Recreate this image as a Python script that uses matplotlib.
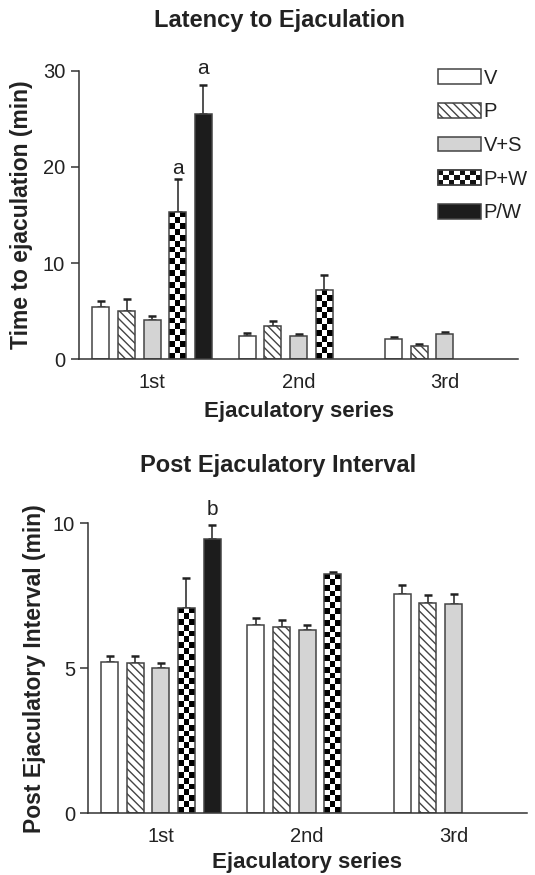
import numpy as np
import matplotlib
matplotlib.use('Agg')
import matplotlib.pyplot as plt
from matplotlib.patches import Patch, Rectangle
from matplotlib.legend_handler import HandlerBase

plt.rcParams['font.family'] = ['Liberation Sans', 'DejaVu Sans']
plt.rcParams['hatch.linewidth'] = 1.0

series = ['1st', '2nd', '3rd']
groups = ['V', 'P', 'V+S', 'P+W', 'P/W']

# Latency to ejaculation (min), mean and SEM
lat_V = [5.39, 2.43, 2.09]
lat_P = [5.05, 3.43, 1.41]
lat_VS = [4.09, 2.43, 2.60]
lat_PW = [15.36, 7.20, np.nan]
lat_PslW = [25.47, np.nan, np.nan]
lat_V_err = [0.62, 0.31, 0.21]
lat_P_err = [1.20, 0.58, 0.20]
lat_VS_err = [0.41, 0.24, 0.21]
lat_PW_err = [3.43, 1.51, np.nan]
lat_PslW_err = [3.02, np.nan, np.nan]

# Post ejaculatory interval (min)
pei_V = [5.23, 6.48, 7.56]
pei_P = [5.20, 6.43, 7.25]
pei_VS = [5.02, 6.31, 7.22]
pei_PW = [7.08, 8.27, np.nan]
pei_PslW = [9.46, np.nan, np.nan]
pei_V_err = [0.21, 0.26, 0.31]
pei_P_err = [0.24, 0.24, 0.28]
pei_VS_err = [0.18, 0.18, 0.34]
pei_PW_err = [1.04, 0.05, np.nan]
pei_PslW_err = [0.47, np.nan, np.nan]

# significance letters: (group index, series index, letter, y)
sig_lat = [(3, 0, 'a', 19.3), (4, 0, 'a', 29.7)]
sig_pei = [(4, 0, 'b', 10.3)]

edge = '#444444'
styles = [
    dict(facecolor='white', hatch=None),
    dict(facecolor='white', hatch='\\\\\\\\'),
    dict(facecolor='#d4d4d4', hatch=None),
    dict(facecolor='white', hatch=None),   # checkerboard drawn on top
    dict(facecolor='#1c1c1c', hatch=None),
]

slot = 0.175
width = 0.116
cell_px = 5.8


def checker(ax, bar):
    x, w, h = bar.get_x(), bar.get_width(), bar.get_height()
    if not np.isfinite(h) or h <= 0:
        return
    p0 = ax.transData.transform((x, 0))
    p1 = ax.transData.transform((x + w, h))
    nx = max(1, int(round((p1[0] - p0[0]) / cell_px)))
    ny = max(1, int(round((p1[1] - p0[1]) / cell_px)))
    grid = (np.indices((ny, nx)).sum(axis=0) % 2).astype(float)
    im = ax.imshow(grid, cmap='gray', vmin=0, vmax=1, extent=(x, x + w, 0, h),
                   origin='lower', aspect='auto', interpolation='nearest', zorder=2.5)
    im.set_clip_path(bar)


def draw_panel(ax, data, errs, ylim, yticks, sig, ylabel, tick_pad, ylpad, xlpad):
    x = np.arange(len(series))
    ax.set_xlim(-0.5, 2.5)
    ax.set_ylim(*ylim)
    for i, (vals, err) in enumerate(zip(data, errs)):
        xs = x + (i - 2) * slot
        st = styles[i]
        bars = ax.bar(xs, vals, width, color=st['facecolor'], edgecolor=edge,
                      hatch=st['hatch'], linewidth=1.1, zorder=2)
        ax.errorbar(xs, vals, yerr=[np.zeros(len(vals)), err], fmt='none',
                    ecolor='#222222', elinewidth=1.1, capsize=3, capthick=1.8, zorder=1)
        if i == 3:
            for b in bars:
                checker(ax, b)
            for b in bars:
                b.set_facecolor('none')
                b.set_zorder(3)
    for gi, si, letter, y in sig:
        ax.text(x[si] + (gi - 2) * slot, y, letter, ha='center', va='baseline',
                fontsize=15, color='#222222')
    ax.set_xticks(x)
    ax.set_xticklabels(series)
    ax.set_yticks(yticks)
    for s in ['top', 'right']:
        ax.spines[s].set_visible(False)
    for s in ['left', 'bottom']:
        ax.spines[s].set_color('#333333')
        ax.spines[s].set_linewidth(1.1)
    ax.tick_params(axis='x', length=0, pad=10, labelsize=14.5, colors='#222222')
    ax.tick_params(axis='y', length=6, width=1.1, pad=tick_pad, labelsize=14.5,
                   colors='#333333', labelcolor='#222222')
    ax.set_xlabel('Ejaculatory series', fontsize=16, fontweight='bold', labelpad=xlpad,
                  color='#222222')
    ax.set_ylabel(ylabel, fontsize=16.5, fontweight='bold', color='#222222', labelpad=ylpad)


class CheckerHandler(HandlerBase):
    def create_artists(self, legend, orig_handle, xdescent, ydescent, width, height,
                       fontsize, trans):
        arts = [Rectangle((-xdescent, -ydescent), width, height, facecolor='white',
                          edgecolor=edge, linewidth=1.1, transform=trans)]
        nx, ny = 8, 3
        cw, ch = width / nx, height / ny
        for r in range(ny):
            for c in range(nx):
                if (r + c) % 2 == 0:
                    arts.append(Rectangle((-xdescent + c * cw, -ydescent + r * ch), cw, ch,
                                          facecolor='#111111', edgecolor='none',
                                          transform=trans))
        arts.append(Rectangle((-xdescent, -ydescent), width, height, facecolor='none',
                              edgecolor=edge, linewidth=1.1, transform=trans))
        return arts


fig = plt.figure(figsize=(5.35, 8.75), dpi=100)
ax1 = fig.add_axes([0.1477, 0.5894, 0.8206, 0.3298])
ax2 = fig.add_axes([0.1639, 0.0705, 0.8206, 0.3314])

draw_panel(ax1,
           [lat_V, lat_P, lat_VS, lat_PW, lat_PslW],
           [lat_V_err, lat_P_err, lat_VS_err, lat_PW_err, lat_PslW_err],
           (0, 30), [0, 10, 20, 30], sig_lat, 'Time to ejaculation (min)', 4, 7, 6.5)
draw_panel(ax2,
           [pei_V, pei_P, pei_VS, pei_PW, pei_PslW],
           [pei_V_err, pei_P_err, pei_VS_err, pei_PW_err, pei_PslW_err],
           (0, 10), [0, 5, 10], sig_pei, 'Post Ejaculatory Interval (min)', 3, 5, 4.5)

fig.text(0.523, 1 - 20.7 / 875, 'Latency to Ejaculation', ha='center', va='center',
         fontsize=17, fontweight='bold', color='#222222')
fig.text(0.52, 1 - 465 / 875, 'Post Ejaculatory Interval', ha='center', va='center',
         fontsize=17, fontweight='bold', color='#222222')

handles = []
for i, g in enumerate(groups):
    st = styles[i]
    handles.append(Patch(facecolor=st['facecolor'], edgecolor=edge, hatch=st['hatch'],
                         linewidth=1.1, label=g))
leg = ax1.legend(handles=handles, labels=groups, handler_map={handles[3]: CheckerHandler()},
                 loc='upper left', bbox_to_anchor=(438 / 535, 1 - 68.5 / 875),
                 bbox_transform=fig.transFigure, frameon=False, fontsize=14.5,
                 handlelength=2.15, handleheight=0.75, handletextpad=0.12,
                 labelspacing=0.73, borderpad=0, borderaxespad=0)
for t in leg.get_texts():
    t.set_color('#222222')

fig.savefig('out.png', dpi=100)
